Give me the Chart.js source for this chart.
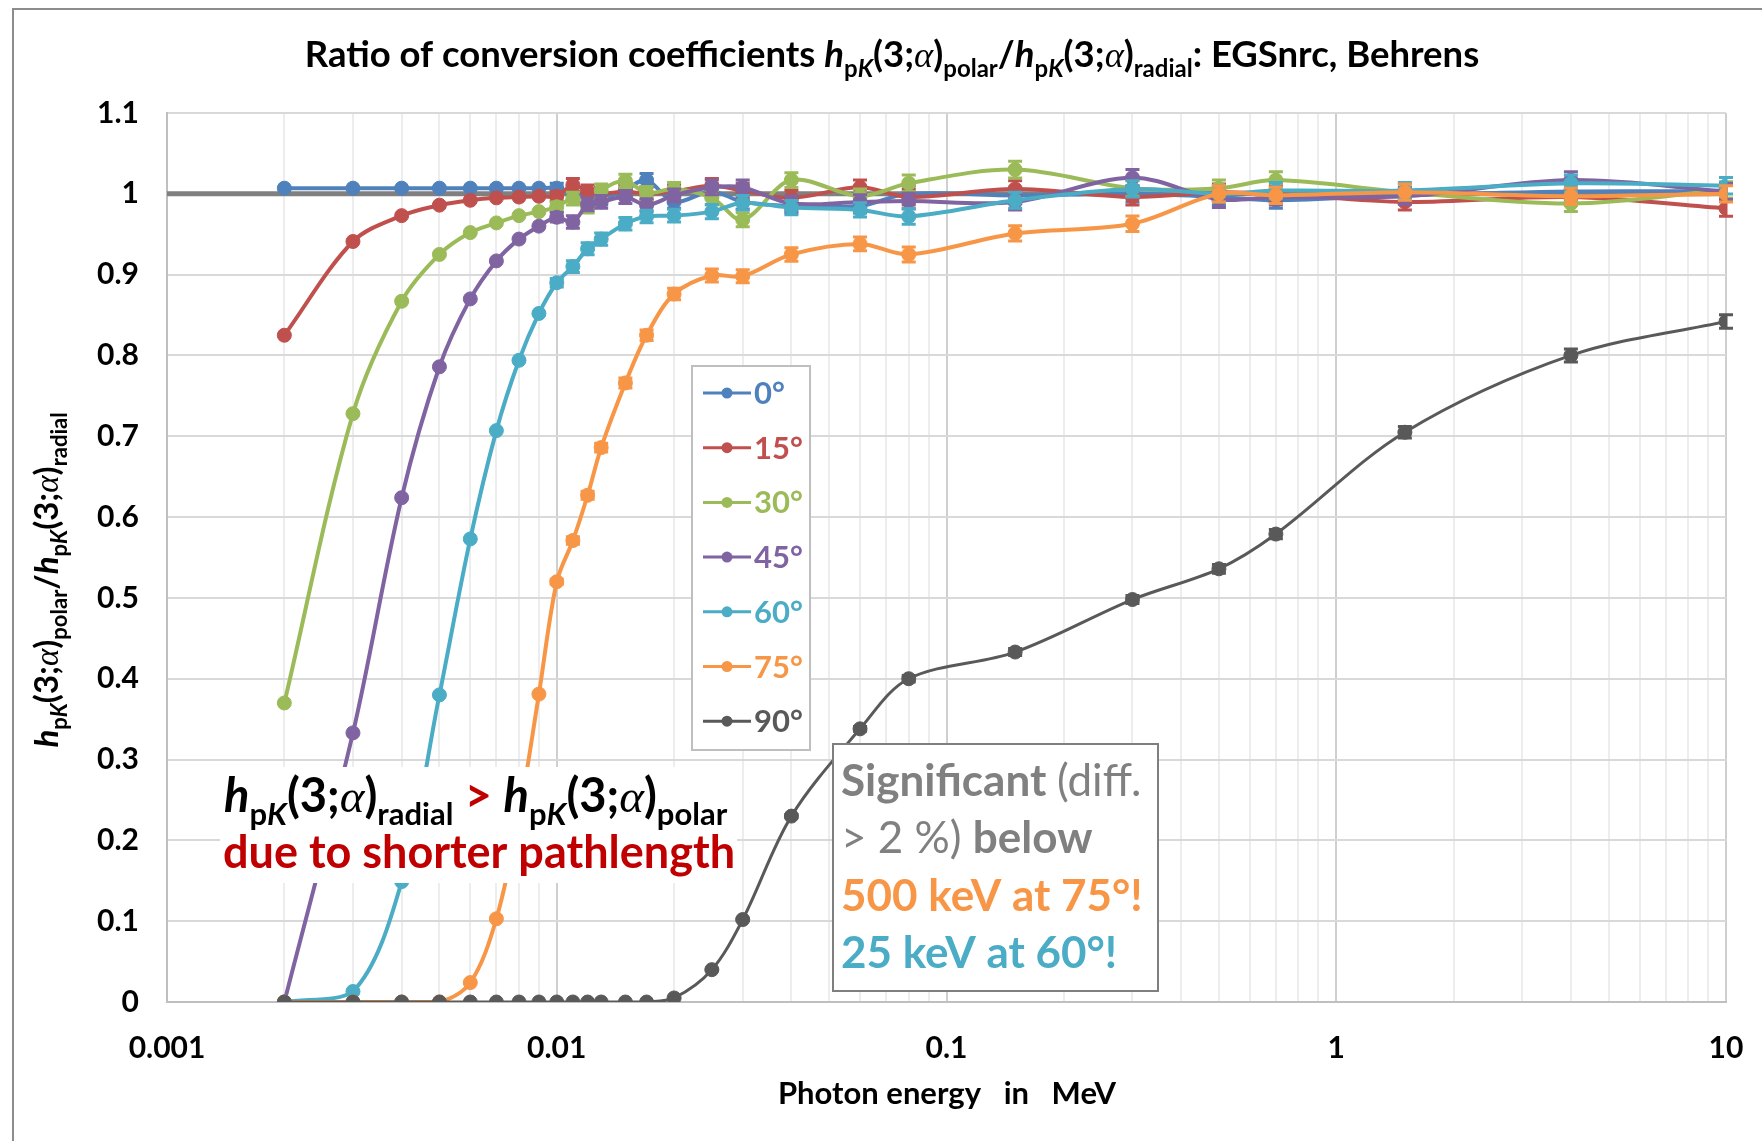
<!DOCTYPE html>
<html>
<head>
<meta charset="utf-8">
<script src="https://cdn.jsdelivr.net/npm/chart.js@4.4.1/dist/chart.umd.min.js"></script>
<style>
  html, body { margin: 0; padding: 0; background: #fff; }
</style>
</head>
<body>
<canvas id="chart" width="1762" height="1141"></canvas>
<script>
// photon energies in MeV
const energies = [0.002, 0.003, 0.004, 0.005, 0.006, 0.007, 0.008, 0.009, 0.010, 0.011, 0.012, 0.013, 0.015, 0.017,
                  0.020, 0.025, 0.030, 0.040, 0.060, 0.080, 0.15, 0.3, 0.5, 0.7, 1.5, 4, 10];

const angleLabels = ['0°', '15°', '30°', '45°', '60°', '75°', '90°'];
const angleColors = ['#4F81BD', '#C0504D', '#9BBB59', '#8064A2', '#4BACC6', '#F79646', '#595959'];

// ratio h_pK(3;a)_polar / h_pK(3;a)_radial per angle
const ratio0  = [1.007, 1.007, 1.007, 1.007, 1.007, 1.007, 1.007, 1.007, 1.007, 1.000, 0.998, 0.994, 1.005, 1.017,
                 0.990, 1.003, 0.990, 0.985, 0.985, 1.000, 0.998, 1.000, 0.996, 0.992, 0.998, 1.003, 1.003];
const ratio15 = [0.825, 0.941, 0.973, 0.986, 0.992, 0.995, 0.996, 0.997, 0.997, 1.011, 1.003, 1.000, 1.003, 1.000,
                 1.003, 1.010, 1.004, 0.995, 1.008, 0.996, 1.006, 0.996, 1.002, 1.000, 0.990, 0.996, 0.982];
const ratio30 = [0.370, 0.728, 0.867, 0.925, 0.952, 0.964, 0.973, 0.978, 0.984, 0.994, 0.984, 1.004, 1.016, 1.001,
                 1.006, 0.995, 0.968, 1.017, 0.997, 1.013, 1.030, 1.007, 1.007, 1.017, 1.002, 0.988, 1.005];
const ratio45 = [0.000, 0.333, 0.624, 0.786, 0.870, 0.917, 0.944, 0.960, 0.971, 0.965, 0.987, 0.990, 0.996, 0.986,
                 0.998, 1.008, 1.008, 0.988, 0.990, 0.991, 0.990, 1.020, 0.993, 0.996, 0.997, 1.017, 1.003];
const ratio60 = [0.000, 0.013, 0.149, 0.380, 0.573, 0.707, 0.794, 0.852, 0.890, 0.910, 0.932, 0.944, 0.963, 0.972,
                 0.973, 0.978, 0.989, 0.983, 0.980, 0.972, 0.992, 1.006, 1.000, 1.004, 1.004, 1.013, 1.010];
const ratio75 = [0.000, 0.000, 0.000, 0.000, 0.024, 0.103, 0.230, 0.381, 0.520, 0.571, 0.627, 0.686, 0.766, 0.825,
                 0.876, 0.899, 0.898, 0.925, 0.938, 0.925, 0.951, 0.963, 1.000, 0.998, 1.002, 0.997, 1.000];
const ratio90 = [0.000, 0.000, 0.000, 0.000, 0.000, 0.000, 0.000, 0.000, 0.000, 0.000, 0.000, 0.000, 0.000, 0.000,
                 0.005, 0.040, 0.102, 0.230, 0.338, 0.400, 0.433, 0.498, 0.536, 0.579, 0.705, 0.800, 0.842];

// relative statistical uncertainty (error bars)
const relErr = [0, 0, 0, 0, 0, 0, 0, 0, 0.006, 0.008, 0.008, 0.008, 0.008, 0.008,
                0.008, 0.009, 0.009, 0.009, 0.009, 0.010, 0.010, 0.010, 0.010, 0.010, 0.010, 0.010, 0.010];

const yTickStep = 0.1;
const xTicks = [];
for (let e = -3; e <= 0; e++) {
    for (let m = 1; m <= 9; m++) {
        xTicks.push(+(m * Math.pow(10, e)).toPrecision(2));
    }
}
xTicks.push(10);

const FONT = 'Lato, "Open Sans", sans-serif';
const GREEK = '"Liberation Serif", "DejaVu Serif", serif';

const isDecade = (v) => Math.abs(Math.log10(v) - Math.round(Math.log10(v))) < 1e-9;

function fontOf(p) {
    return `${p.italic ? 'italic ' : ''}${p.bold === false ? 'normal' : 'bold'} ${p.size}px ${p.family || FONT}`;
}

// draws a row of text pieces (sub/superscripts, mixed styles) on one baseline
function drawRich(ctx, parts, x, y, align, color) {
    let total = 0;
    parts.forEach((p) => {
        ctx.font = fontOf(p);
        p.w = ctx.measureText(p.t).width;
        total += p.w;
    });
    let cx = align === 'center' ? x - total / 2 : x;
    ctx.textBaseline = 'alphabetic';
    ctx.textAlign = 'left';
    parts.forEach((p) => {
        ctx.font = fontOf(p);
        ctx.fillStyle = p.color || color || '#000';
        ctx.fillText(p.t, cx, y + (p.dy || 0));
        cx += p.w;
    });
    return total;
}

function hpk(size, sub) {
    const s = Math.round(size * 0.66);
    const d = Math.round(size * 0.27);
    return [
        {t: 'h', size, italic: true},
        {t: 'p', size: s, dy: d},
        {t: 'K', size: s, italic: true, dy: d},
        {t: '(3;', size},
        {t: 'α', size, italic: true, bold: false, family: GREEK},
        {t: ')', size},
        {t: sub, size: s, dy: d},
    ];
}

const seriesValues = [ratio0, ratio15, ratio30, ratio45, ratio60, ratio75, ratio90];

const datasets = seriesValues.map((values, i) => ({
    label: angleLabels[i],
    data: energies.map((e, k) => ({x: e, y: values[k]})),
    errorBars: values.map((v, k) => v * relErr[k]),
    borderColor: angleColors[i],
    backgroundColor: angleColors[i],
    pointBackgroundColor: angleColors[i],
    pointBorderColor: angleColors[i],
    pointBorderWidth: 1,
    pointRadius: 7,
    borderWidth: i === 6 ? 3 : 4,
    tension: 0.33,
    order: 7 - i,
}));

// the grey unity reference line
datasets.push({
    data: [{x: 0.001, y: 1}, {x: 10, y: 1}],
    borderColor: '#808080',
    borderWidth: 5,
    pointRadius: 0,
    tension: 0,
    order: 10,
});

const overlay = {
    id: 'overlay',
    beforeDraw(chart) {
        const ctx = chart.ctx;
        ctx.save();
        ctx.fillStyle = '#fff';
        ctx.fillRect(0, 0, chart.width, chart.height);
        ctx.strokeStyle = '#8c8c8c';
        ctx.lineWidth = 2;
        ctx.beginPath();
        ctx.moveTo(13, chart.height);
        ctx.lineTo(13, 9);
        ctx.lineTo(chart.width, 9);
        ctx.stroke();
        ctx.restore();
    },
    afterDatasetDraw(chart, args) {
        const ds = chart.data.datasets[args.index];
        if (!ds.errorBars) {
            return;
        }
        const ctx = chart.ctx;
        const yScale = chart.scales.y;
        ctx.save();
        ctx.strokeStyle = ds.borderColor;
        ctx.lineWidth = 3;
        args.meta.data.forEach((pt, k) => {
            const err = ds.errorBars[k];
            if (!err) {
                return;
            }
            const v = ds.data[k].y;
            const top = yScale.getPixelForValue(v + err);
            const bottom = yScale.getPixelForValue(v - err);
            ctx.beginPath();
            ctx.moveTo(pt.x, top);
            ctx.lineTo(pt.x, bottom);
            ctx.moveTo(pt.x - 7, top);
            ctx.lineTo(pt.x + 7, top);
            ctx.moveTo(pt.x - 7, bottom);
            ctx.lineTo(pt.x + 7, bottom);
            ctx.stroke();
        });
        ctx.restore();
    },
    afterDatasetsDraw(chart) {
        const ctx = chart.ctx;
        ctx.save();

        // legend
        ctx.fillStyle = '#fff';
        ctx.fillRect(692, 366, 118, 384);
        ctx.strokeStyle = '#bfbfbf';
        ctx.lineWidth = 2;
        ctx.strokeRect(692, 366, 118, 384);
        chart.data.datasets.filter((d) => d.label).forEach((d, i) => {
            const yc = 393 + i * 54.7;
            ctx.strokeStyle = d.borderColor;
            ctx.lineWidth = 3;
            ctx.beginPath();
            ctx.moveTo(703, yc);
            ctx.lineTo(751, yc);
            ctx.stroke();
            ctx.fillStyle = d.borderColor;
            ctx.beginPath();
            ctx.arc(727, yc, 5.5, 0, Math.PI * 2);
            ctx.fill();
            ctx.font = `bold 31px ${FONT}`;
            ctx.textBaseline = 'middle';
            ctx.textAlign = 'left';
            ctx.fillText(d.label, 754, yc + 1);
        });

        // note on the left
        ctx.fillStyle = '#fff';
        ctx.fillRect(220, 767, 517, 116);
        const line1 = hpk(47, 'radial').concat([{t: ' > ', size: 47, color: '#C00000'}], hpk(47, 'polar'));
        drawRich(ctx, line1, 224, 812, 'left', '#000');
        drawRich(ctx, [{t: 'due to shorter pathlength', size: 45}], 223, 868, 'left', '#C00000');

        // boxed note
        ctx.fillStyle = '#fff';
        ctx.fillRect(833, 744, 325, 247);
        ctx.strokeStyle = '#7f7f7f';
        ctx.lineWidth = 2;
        ctx.strokeRect(833, 744, 325, 247);
        const s = 44;
        drawRich(ctx, [{t: 'Significant ', size: s}, {t: '(diff.', size: s, bold: false}], 841, 796, 'left', '#808080');
        drawRich(ctx, [{t: '> 2 %) ', size: s, bold: false}, {t: 'below', size: s}], 841, 853, 'left', '#808080');
        drawRich(ctx, [{t: '500 keV at 75°!', size: s}], 841, 911, 'left', angleColors[5]);
        drawRich(ctx, [{t: '25 keV at 60°!', size: s}], 841, 968, 'left', angleColors[4]);
        ctx.restore();
    },
    afterDraw(chart) {
        const ctx = chart.ctx;
        ctx.save();
        const t = 36.5;
        const title = [{t: 'Ratio of conversion coefficients ', size: t}]
            .concat(hpk(t, 'polar'), [{t: '/', size: t}], hpk(t, 'radial'), [{t: ': EGSnrc, Behrens', size: t}]);
        drawRich(ctx, title, 892, 67, 'center', '#000');

        drawRich(ctx, [{t: 'Photon energy   in   MeV', size: 31}], 947, 1104, 'center', '#000');

        ctx.translate(58, 580);
        ctx.rotate(-Math.PI / 2);
        const y = 33;
        const yTitle = hpk(y, 'polar').concat([{t: '/', size: y}], hpk(y, 'radial'));
        drawRich(ctx, yTitle, 0, 0, 'center', '#000');
        ctx.restore();
    },
};

new Chart(document.getElementById('chart'), {
    type: 'line',
    data: {datasets},
    plugins: [overlay],
    options: {
        responsive: false,
        animation: false,
        devicePixelRatio: 1,
        layout: {padding: {top: 113, right: 36, bottom: 0, left: 0}},
        plugins: {
            legend: {display: false},
            tooltip: {enabled: false},
            title: {display: false},
        },
        scales: {
            x: {
                type: 'logarithmic',
                min: 0.001,
                max: 10,
                afterBuildTicks: (scale) => {
                    scale.ticks = xTicks.map((v) => ({value: v, major: isDecade(v)}));
                },
                afterFit: (scale) => {
                    scale.height = 139;
                    scale.paddingLeft = 0;
                    scale.paddingRight = 0;
                },
                ticks: {
                    autoSkip: false,
                    maxRotation: 0,
                    padding: 28,
                    color: '#000',
                    font: {family: FONT, size: 30, weight: 'bold'},
                    callback: (v) => (isDecade(v) ? String(v) : ''),
                },
                grid: {
                    drawTicks: false,
                    lineWidth: 2,
                    color: (ctx) => (ctx.tick && isDecade(ctx.tick.value) ? '#cfcfcf' : '#ededed'),
                },
                border: {color: '#bfbfbf', width: 2},
            },
            y: {
                min: 0,
                max: 1.1,
                afterFit: (scale) => {
                    scale.width = 167;
                },
                ticks: {
                    stepSize: yTickStep,
                    padding: 28,
                    color: '#000',
                    font: {family: FONT, size: 30, weight: 'bold'},
                    callback: (v) => String(Math.round(v * 10) / 10),
                },
                grid: {drawTicks: false, lineWidth: 2, color: '#d9d9d9'},
                border: {color: '#bfbfbf', width: 2},
            },
        },
    },
});
</script>
</body>
</html>
